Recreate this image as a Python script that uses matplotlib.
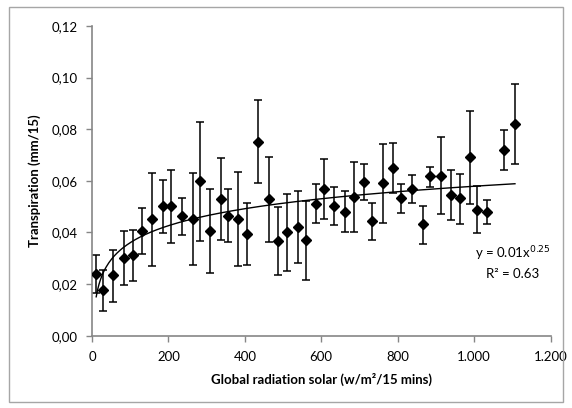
import numpy as np
import matplotlib
matplotlib.use("Agg")
import matplotlib.pyplot as plt
from matplotlib.patches import Rectangle

# Data
radiation = [11, 30, 56, 83, 108, 131, 156, 186, 207, 236, 264, 283, 310, 337, 355,
             383, 406, 435, 463, 486, 511, 539, 559, 585, 608, 634, 662, 686, 712, 733,
             762, 788, 809, 838, 865, 885, 913, 939, 964, 989, 1008, 1035, 1078, 1107]
transpiration = [0.0240, 0.0176, 0.0234, 0.0301, 0.0314, 0.0407, 0.0451, 0.0501, 0.0501, 0.0463,
                 0.0452, 0.0601, 0.0404, 0.0530, 0.0464, 0.0453, 0.0394, 0.0752, 0.0530, 0.0368,
                 0.0401, 0.0422, 0.0370, 0.0511, 0.0568, 0.0504, 0.0481, 0.0539, 0.0597, 0.0443,
                 0.0592, 0.0650, 0.0532, 0.0568, 0.0432, 0.0618, 0.0620, 0.0545, 0.0535, 0.0691,
                 0.0487, 0.0479, 0.0720, 0.0820]
err_top = [0.0312, 0.0254, 0.0332, 0.0406, 0.0408, 0.0496, 0.0629, 0.0603, 0.0642, 0.0535,
           0.0629, 0.0828, 0.0568, 0.0687, 0.0567, 0.0635, 0.0514, 0.0912, 0.0694, 0.0500,
           0.0548, 0.0559, 0.0520, 0.0589, 0.0685, 0.0577, 0.0562, 0.0674, 0.0665, 0.0515,
           0.0742, 0.0747, 0.0588, 0.0621, 0.0504, 0.0654, 0.0770, 0.0641, 0.0628, 0.0871,
           0.0579, 0.0526, 0.0796, 0.0974]
err_bot = [0.0167, 0.0095, 0.0131, 0.0196, 0.0213, 0.0318, 0.0270, 0.0399, 0.0359, 0.0391,
           0.0275, 0.0368, 0.0242, 0.0371, 0.0362, 0.0271, 0.0274, 0.0590, 0.0364, 0.0234,
           0.0252, 0.0283, 0.0216, 0.0435, 0.0452, 0.0430, 0.0401, 0.0402, 0.0526, 0.0371,
           0.0438, 0.0552, 0.0474, 0.0513, 0.0357, 0.0577, 0.0470, 0.0447, 0.0434, 0.0510,
           0.0398, 0.0433, 0.0642, 0.0666]

x_ticks = [0, 200, 400, 600, 800, 1000, 1200]
x_tick_labels = ["0", "200", "400", "600", "800", "1.000", "1.200"]
y_ticks = [0.00, 0.02, 0.04, 0.06, 0.08, 0.10, 0.12]
y_tick_labels = ["0,00", "0,02", "0,04", "0,06", "0,08", "0,10", "0,12"]

x = np.array(radiation, dtype=float)
y = np.array(transpiration)
yerr = np.vstack([y - np.array(err_bot), np.array(err_top) - y])

plt.rcParams['font.family'] = ['Lato', 'DejaVu Sans']

fig = plt.figure(figsize=(5.72, 4.08), dpi=100)
ax = fig.add_axes([92 / 572, 1 - 335.7 / 408, 458.5 / 572, 309.7 / 408])

grey = "#868686"
ax.errorbar(x, y, yerr=yerr, fmt='none', ecolor='black', elinewidth=1.1,
            capsize=3, capthick=1.1, zorder=2)
ax.plot(x, y, linestyle='none', marker='D', markersize=5.5, color='black', zorder=3)

# Trend line fitted to the data
coef = np.polyfit(np.log(x), y, 1)
xs = np.linspace(x.min(), x.max(), 300)
ax.plot(xs, coef[0] * np.log(xs) + coef[1], color='black', linewidth=1.0, zorder=2.5)

ax.set_xlim(0, 1200)
ax.set_ylim(0, 0.12)
ax.set_xticks(x_ticks)
ax.set_xticklabels(x_tick_labels)
ax.set_yticks(y_ticks)
ax.set_yticklabels(y_tick_labels)

for s in ['top', 'right']:
    ax.spines[s].set_visible(False)
for s in ['left', 'bottom']:
    ax.spines[s].set_color(grey)
    ax.spines[s].set_linewidth(1.2)
ax.tick_params(axis='both', direction='out', length=4, color=grey, width=1.0,
               labelsize=9.5, labelcolor='black')
ax.tick_params(axis='x', pad=7)
ax.tick_params(axis='y', pad=6)

ax.set_xlabel("Global radiation solar (w/m²/15 mins)", fontsize=9.5,
              fontweight='bold', labelpad=7)
ax.set_ylabel("Transpiration (mm/15)", fontsize=9.5, fontweight='bold', labelpad=8)

fig.text(513 / 572, 1 - 254 / 408, "y = 0.01x$^{0.25}$", ha='center', va='center', fontsize=9.5)
fig.text(513 / 572, 1 - 274 / 408, "R² = 0.63", ha='center', va='center', fontsize=9.5)

fig.patches.append(Rectangle((9 / 572, 1 - 402 / 408), (563 - 9) / 572, (402 - 7) / 408,
                             transform=fig.transFigure, fill=False,
                             edgecolor="#a6a6a6", linewidth=1.0))

fig.savefig("out.png", dpi=100)
